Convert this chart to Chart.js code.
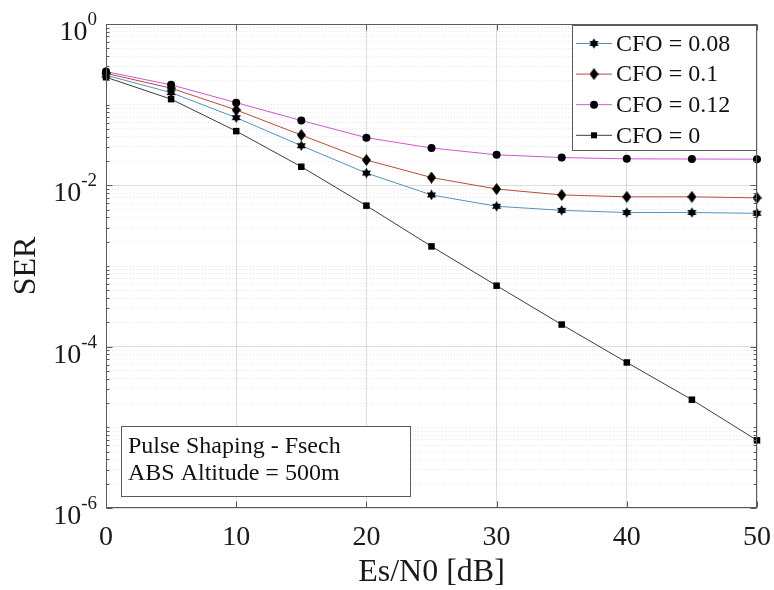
<!DOCTYPE html>
<html>
<head>
<meta charset="utf-8">
<script src="https://cdn.jsdelivr.net/npm/chart.js@4.4.1/dist/chart.umd.min.js"></script>
<style>
  body { margin: 0; background: #fff; }
  #chart { display: block; background: #fff; }
</style>
</head>
<body>
<canvas id="chart" width="774" height="590"></canvas>
<script>
// Es/N0 values (dB)
var snr = [0, 5, 10, 15, 20, 25, 30, 35, 40, 45, 50];
// SER
var cfo008 = [0.232, 0.141, 0.069, 0.031, 0.0142, 0.0076, 0.0055, 0.0049, 0.0046, 0.0046, 0.0045];
var cfo010 = [0.245, 0.160, 0.086, 0.042, 0.0206, 0.0125, 0.0090, 0.0076, 0.0072, 0.0072, 0.0070];
var cfo012 = [0.257, 0.176, 0.106, 0.0636, 0.039, 0.029, 0.0239, 0.0221, 0.0213, 0.0212, 0.0211];
var cfo000 = [0.219, 0.117, 0.047, 0.017, 0.0056, 0.00175, 0.00057, 0.000188, 0.0000637, 0.000022, 0.0000069];
var seriesLabels = ['CFO = 0.08', 'CFO = 0.1', 'CFO = 0.12', 'CFO = 0'];
var xTickStep = 10;
var yLabelExps = [0, -2, -4, -6];
var infoLines = ['Pulse Shaping - Fsech', 'ABS Altitude = 500m'];

var serif = "'Liberation Serif', 'Times New Roman', serif";
var axisColor = '#5a5a5a';

function toPoints(ys) {
	var pts = [];
	for (var i = 0; i < snr.length; i++) pts.push({x: snr[i], y: ys[i]});
	return pts;
}

// filled six point star marker
function makeStar() {
	var c = document.createElement('canvas');
	c.width = 11; c.height = 11;
	var g = c.getContext('2d');
	g.fillStyle = '#000';
	var r = 5.2;
	for (var t = 0; t < 2; t++) {
		g.beginPath();
		for (var k = 0; k < 3; k++) {
			var a = -Math.PI / 2 + t * Math.PI + k * 2 * Math.PI / 3;
			var px = 5.5 + r * Math.cos(a), py = 5.5 + r * Math.sin(a);
			if (k == 0) g.moveTo(px, py); else g.lineTo(px, py);
		}
		g.closePath();
		g.fill();
	}
	return c;
}

// tall diamond marker
function makeDiamond() {
	var c = document.createElement('canvas');
	c.width = 9; c.height = 12;
	var g = c.getContext('2d');
	g.fillStyle = '#000';
	g.beginPath();
	g.moveTo(4.5, 0); g.lineTo(9, 6); g.lineTo(4.5, 12); g.lineTo(0, 6);
	g.closePath();
	g.fill();
	return c;
}

var starImg = makeStar();
var diamondImg = makeDiamond();

function isMajorY(v) {
	var e = Math.log10(v);
	var r = Math.round(e);
	return Math.abs(e - r) < 1e-9 && r % 2 == 0;
}

// box, inward ticks, custom y labels, legend and note
var decorPlugin = {
	id: 'decor',
	afterDraw: function(chart) {
		var ctx = chart.ctx;
		var a = chart.chartArea;
		var xs = chart.scales.x, ys = chart.scales.y;
		var L = Math.round(a.left) + 0.5, R = Math.round(a.right) - 0.5;
		var T = Math.round(a.top) + 0.5, B = Math.round(a.bottom) - 0.5;
		ctx.save();
		ctx.strokeStyle = axisColor;
		ctx.lineWidth = 1;
		ctx.strokeRect(L, T, R - L, B - T);

		ctx.beginPath();
		for (var v = 0; v <= 50; v += xTickStep) {
			var px = Math.round(xs.getPixelForValue(v)) + 0.5;
			ctx.moveTo(px, B); ctx.lineTo(px, B - 6);
			ctx.moveTo(px, T); ctx.lineTo(px, T + 6);
		}
		ys.ticks.forEach(function(t) {
			var py = Math.round(ys.getPixelForValue(t.value)) + 0.5;
			var len = isMajorY(t.value) ? 6 : 3;
			ctx.moveTo(L, py); ctx.lineTo(L + len, py);
			ctx.moveTo(R, py); ctx.lineTo(R - len, py);
		});
		ctx.stroke();

		// y tick labels 10^k
		ctx.fillStyle = '#1a1a1a';
		ctx.textAlign = 'right';
		ctx.textBaseline = 'alphabetic';
		yLabelExps.forEach(function(e) {
			var py = ys.getPixelForValue(Math.pow(10, e));
			ctx.font = '19px ' + serif;
			var sup = String(e);
			var sw = ctx.measureText(sup).width;
			ctx.fillText(sup, 97, py + 1);
			ctx.font = '28px ' + serif;
			ctx.fillText('10', 97 - sw, py + 16);
		});

		// legend
		var lx = 572.5, ly = 25.5, lw = 184, lh = 125;
		ctx.fillStyle = '#fff';
		ctx.fillRect(lx, ly, lw, lh);
		ctx.strokeStyle = axisColor;
		ctx.strokeRect(lx, ly, lw, lh);
		ctx.font = '24px ' + serif;
		ctx.textAlign = 'left';
		ctx.textBaseline = 'middle';
		chart.data.datasets.forEach(function(ds, i) {
			var cy = 43.5 + i * 30.6;
			ctx.strokeStyle = ds.borderColor;
			ctx.lineWidth = 1;
			ctx.beginPath();
			ctx.moveTo(576, cy); ctx.lineTo(612, cy);
			ctx.stroke();
			var st = ds.pointStyle;
			ctx.fillStyle = '#000';
			if (st == 'circle') {
				ctx.beginPath(); ctx.arc(594, cy, 4, 0, Math.PI * 2); ctx.fill();
			} else if (st == 'rect') {
				ctx.fillRect(591, cy - 3, 6, 6);
			} else {
				ctx.drawImage(st, 594 - st.width / 2, cy - st.height / 2);
			}
			ctx.fillStyle = '#111';
			ctx.fillText(ds.label, 616, cy + 1);
		});

		// note box
		var bx = 121.5, by = 426.5, bw = 289, bh = 70;
		ctx.fillStyle = '#fff';
		ctx.fillRect(bx, by, bw, bh);
		ctx.strokeStyle = axisColor;
		ctx.strokeRect(bx, by, bw, bh);
		ctx.fillStyle = '#111';
		ctx.font = '24px ' + serif;
		ctx.fillText(infoLines[0], 128, 447);
		ctx.fillText(infoLines[1], 128, 474);
		ctx.restore();
	}
};

var ctx = document.getElementById('chart').getContext('2d');
var chart = new Chart(ctx, {
	type: 'line',
	data: {
		datasets: [
			{ label: seriesLabels[0], data: toPoints(cfo008), borderColor: 'rgb(84,146,190)', pointStyle: starImg, pointRadius: 5 },
			{ label: seriesLabels[1], data: toPoints(cfo010), borderColor: 'rgb(184,74,62)', pointStyle: diamondImg, pointRadius: 5 },
			{ label: seriesLabels[2], data: toPoints(cfo012), borderColor: 'rgb(206,86,210)', pointStyle: 'circle', pointRadius: 4 },
			{ label: seriesLabels[3], data: toPoints(cfo000), borderColor: 'rgb(60,60,60)', pointStyle: 'rect', pointRadius: 4.6 }
		]
	},
	options: {
		responsive: false,
		animation: false,
		clip: false,
		elements: {
			line: { borderWidth: 1, tension: 0, fill: false },
			point: { backgroundColor: '#000', borderColor: '#000', borderWidth: 0 }
		},
		layout: { padding: { top: 24, right: 17, left: 0, bottom: 0 } },
		plugins: { legend: { display: false }, tooltip: { enabled: false } },
		scales: {
			x: {
				type: 'linear', min: 0, max: 50,
				ticks: { stepSize: xTickStep, font: { family: serif, size: 28 }, color: '#1a1a1a', padding: 13, maxRotation: 0 },
				grid: { color: 'rgba(0,0,0,0.13)', drawTicks: false },
				border: { display: false },
				title: { display: true, text: 'Es/N0 [dB]', color: '#1a1a1a', font: { family: serif, size: 32, lineHeight: 1 }, padding: { top: 0, bottom: 1 } },
				afterFit: function(s) { s.height = 82; s.paddingLeft = 0; s.paddingRight = 0; }
			},
			y: {
				type: 'logarithmic', min: 1e-6, max: 1,
				afterBuildTicks: function(s) {
					var t = [];
					for (var e = -6; e < 0; e++) {
						for (var m = 1; m < 10; m++) t.push({ value: m * Math.pow(10, e) });
					}
					t.push({ value: 1 });
					s.ticks = t;
				},
				ticks: { display: false },
				grid: {
					drawTicks: false,
					color: function(c) { return isMajorY(c.tick.value) ? 'rgba(0,0,0,0.13)' : 'rgba(0,0,0,0.09)'; }
				},
				border: {
					display: false,
					dash: function(c) { return isMajorY(c.tick.value) ? [] : [1, 2]; }
				},
				title: { display: true, text: 'SER', color: '#1a1a1a', font: { family: serif, size: 32, lineHeight: 1 }, padding: { top: 11 } },
				afterFit: function(s) { s.width = 106; s.paddingTop = 0; s.paddingBottom = 0; }
			}
		}
	},
	plugins: [decorPlugin]
});
</script>
</body>
</html>
